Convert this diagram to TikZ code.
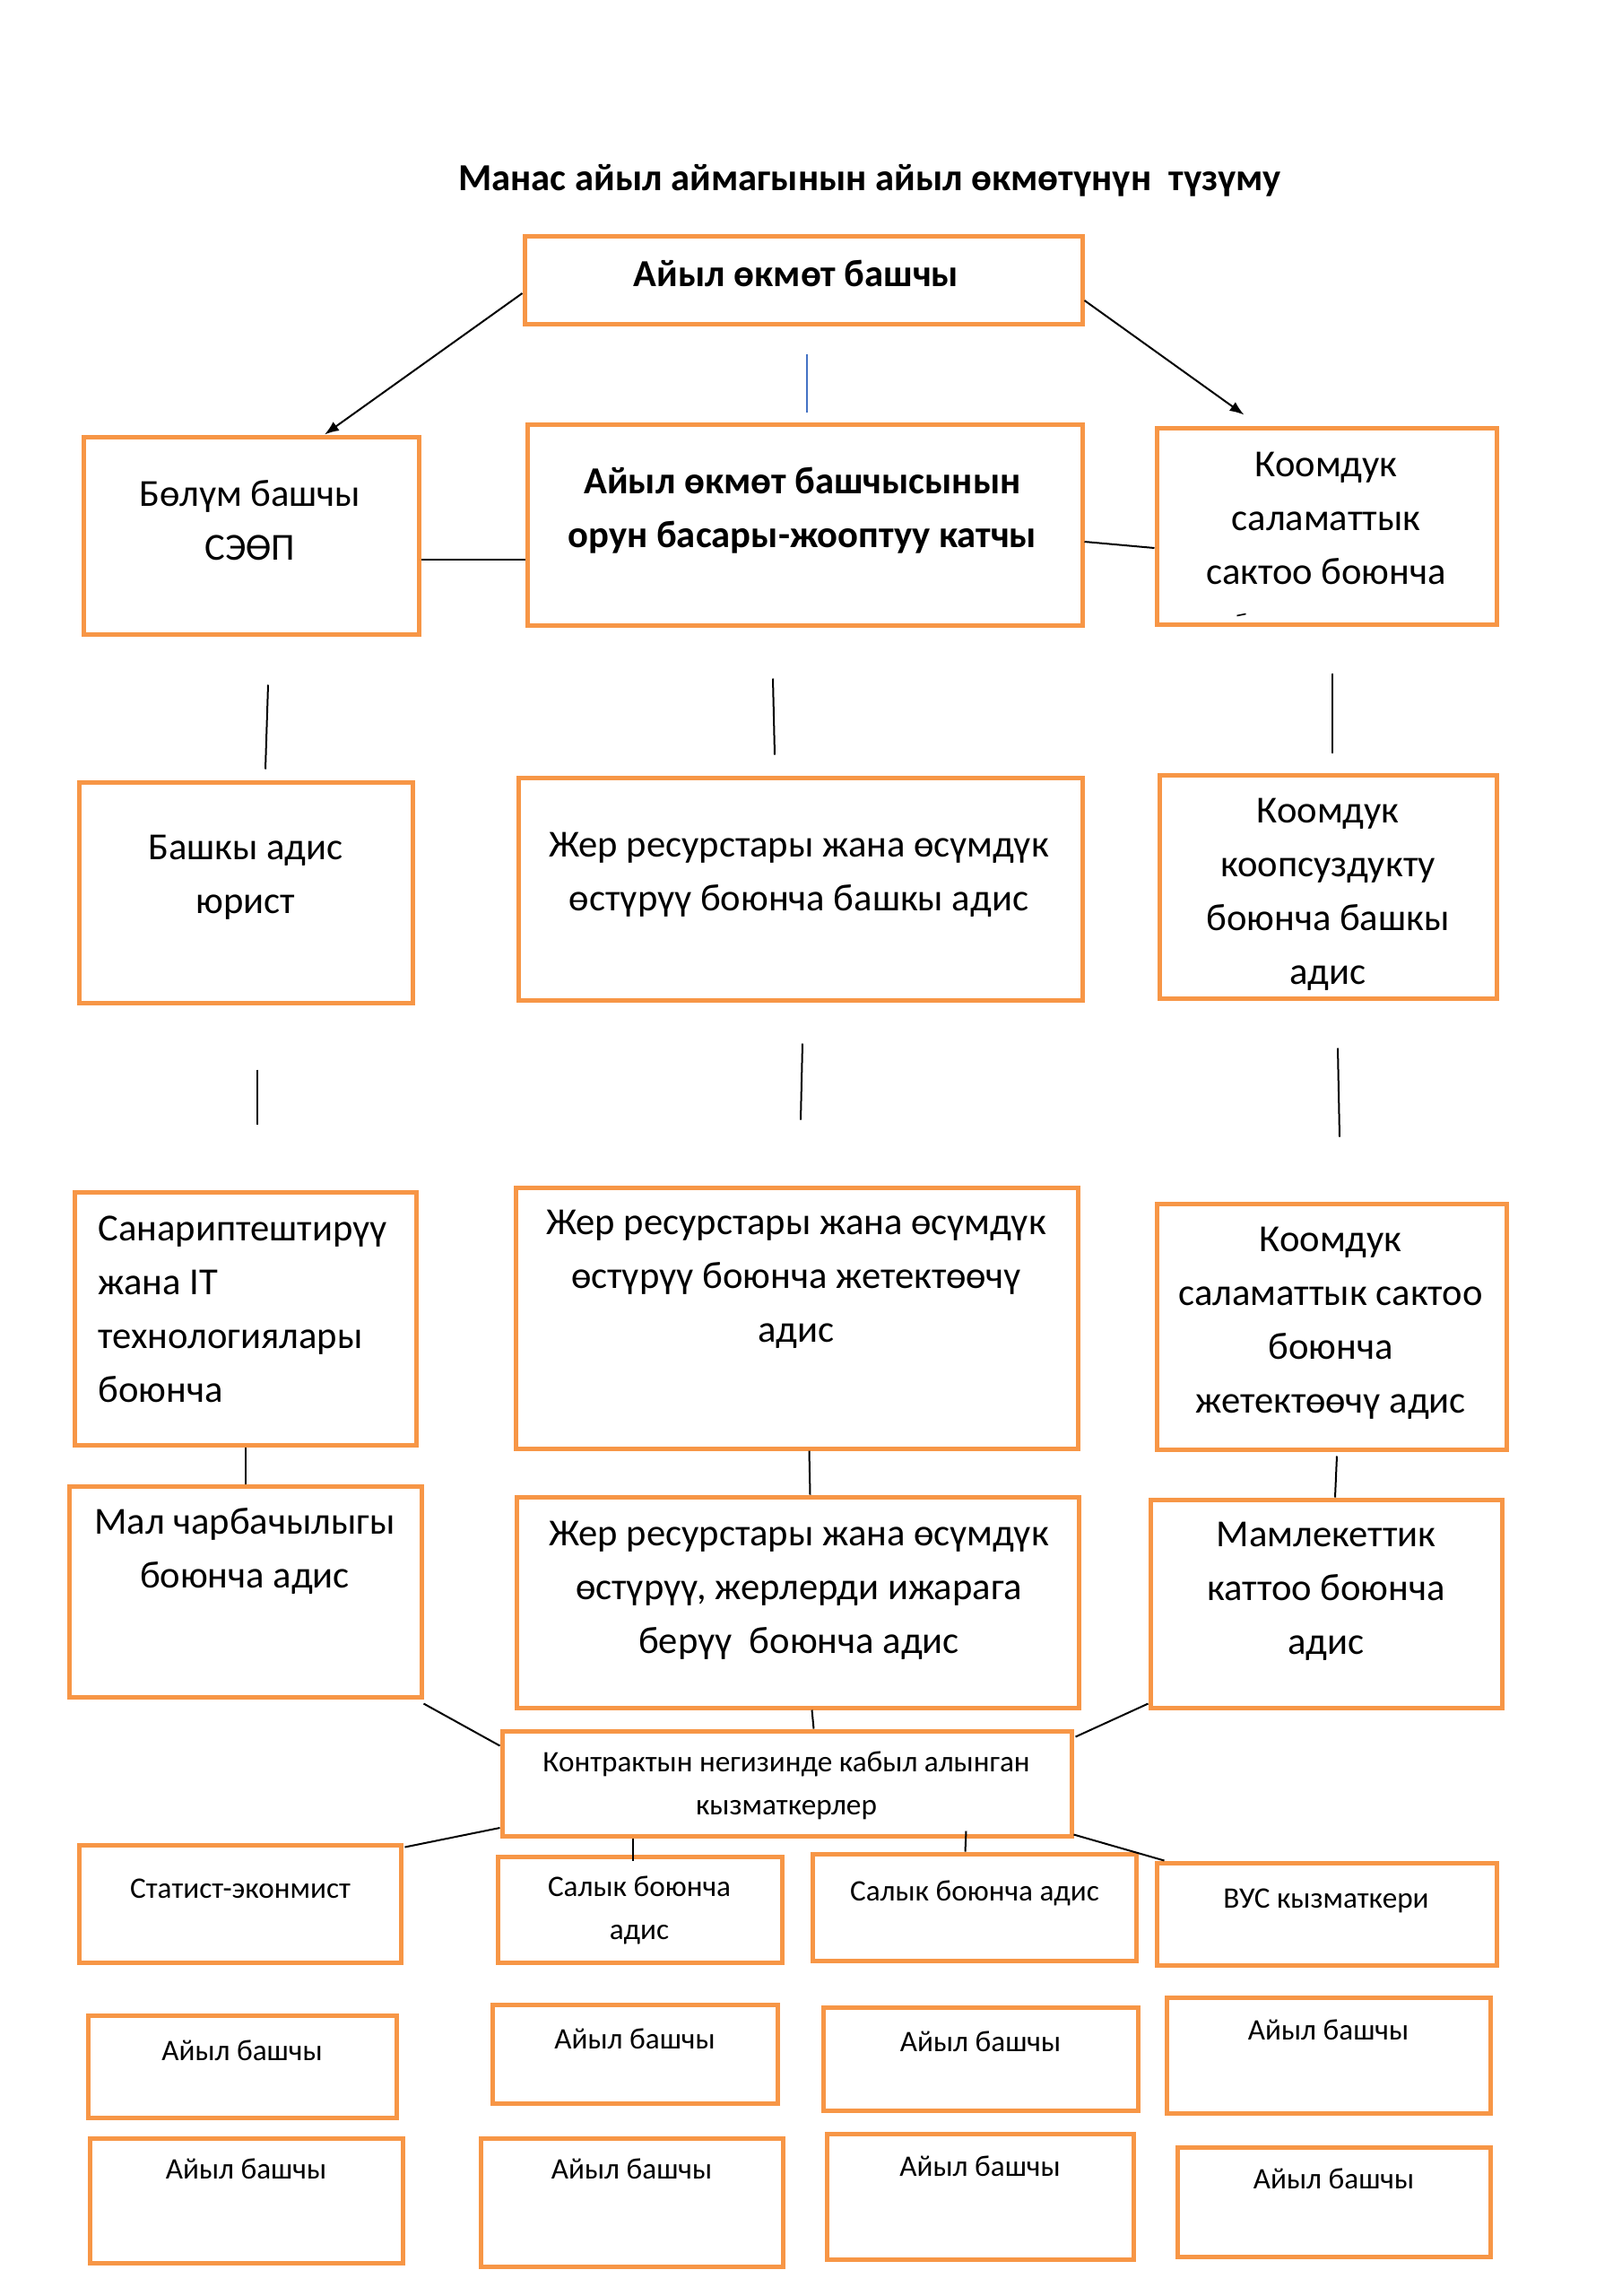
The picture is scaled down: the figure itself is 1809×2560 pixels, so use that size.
\documentclass[tikz,border=0pt]{standalone}
\usepackage{fontspec}
\setmainfont{Carlito}
\usetikzlibrary{arrows.meta,
                fit,
                positioning}
\definecolor{boxorange}{HTML}{F79646}
\definecolor{lineblue}{HTML}{4472C4}

\begin{document}
\begin{tikzpicture}[x=0.5pt, y=-0.5pt,
box/.style   = {draw=boxorange, line width=2.5pt, inner sep=0pt},
txt/.style   = {font=\fontsize{21.3}{30}\selectfont, align=center, inner sep=0pt},
bold/.style  = {font=\bfseries\fontsize{21.3}{30}\selectfont, align=center, inner sep=0pt},
small/.style = {font=\fontsize{16.6}{24}\selectfont, align=center, inner sep=0pt},
link/.style  = {draw, line width=1pt},
arrow/.style = {link, -{Latex[length=8pt, width=6pt]}}
                    ]
\useasboundingbox (0,0) rectangle (1809,2560);
\node[bold, font=\bfseries\fontsize{21.3}{24}\selectfont] (title) at (970,201)
    {Манас айыл аймагынын айыл өкмөтүнүн\ \ түзүму};
% boxes
\node[box, fit={(585,263) (1207,361)}]   (b1) {};
\node[box, fit={(93,487) (467,707)}]     (b2) {};
\node[box, fit={(588,473) (1207,697)}]   (b3) {};
\node[box, fit={(1290,477) (1669,696)}]  (b4) {};
\node[box, fit={(88,872) (460,1118)}]    (b5) {};
\node[box, fit={(578,867) (1207,1115)}]  (b6) {};
\node[box, fit={(1293,864) (1669,1113)}] (b7) {};
\node[box, fit={(83,1329) (464,1611)}]   (b8) {};
\node[box, fit={(575,1324) (1202,1615)}] (b9) {};
\node[box, fit={(1290,1342) (1680,1616)}] (b10) {};
\node[box, fit={(77,1657) (470,1892)}]   (b11) {};
\node[box, fit={(576,1669) (1203,1904)}] (b12) {};
\node[box, fit={(1283,1672) (1675,1904)}] (b13) {};
\node[box, fit={(560,1930) (1195,2047)}] (b14) {};
\node[box, fit={(88,2057) (447,2188)}]   (b15) {};
\node[box, fit={(555,2070) (872,2188)}]  (b16) {};
\node[box, fit={(906,2067) (1267,2186)}] (b17) {};
\node[box, fit={(1290,2077) (1669,2191)}] (b18) {};
% texts
\node[bold] (t1) at (888,305) {Айыл өкмөт башчы};
\node[txt]  (t2) at (279,580) {Бөлүм башчы\\СЭӨП};
\node[bold] (t3) at (895,569) {Айыл өкмөт башчысынын\\орун басары-жооптуу катчы};
\node[txt]  (t4) at (1479,578) {Коомдук\\саламаттык\\сактоо боюнча};
\node[txt]  (t5) at (274,978) {Башкы адис\\юрист};
\node[txt]  (t6) at (891,975) {Жер ресурстары жана өсүмдүк\\өстүрүү боюнча башкы адис};
\node[txt]  (t7) at (1481,997) {Коомдук\\коопсуздукту\\боюнча башкы\\адис};
\node[txt, align=left, anchor=west] (t8) at (109,1460)
    {Санариптештирүү\\жана IT\\технологиялары\\боюнча};
\node[txt]  (t9) at (888,1426) {Жер ресурстары жана өсүмдүк\\өстүрүү боюнча жетектөөчү\\адис};
\node[txt]  (t10) at (1484,1475) {Коомдук\\саламаттык сактоо\\боюнча\\жетектөөчү адис};
\node[txt]  (t11) at (273,1729) {Мал чарбачылыгы\\боюнча адис};
\node[txt]  (t12) at (891,1773) {Жер ресурстары жана өсүмдүк\\өстүрүү, жерлерди ижарага\\берүү\ \ боюнча адис};
\node[txt]  (t13) at (1479,1774) {Мамлекеттик\\каттоо боюнча\\адис};
\node[small] (t14) at (877,1991) {Контрактын негизинде кабыл алынган\\кызматкерлер};
\node[small] (t15) at (268,2106) {Статист-эконмист};
\node[small] (t16) at (713,2130) {Салык боюнча\\адис};
\node[small] (t17) at (1087,2111) {Салык боюнча адис};
\node[small] (t18) at (1479,2119) {ВУС кызматкери};
% village heads
\foreach \i/\xa/\ya/\xb/\yb/\ty in {1/98/2247/442/2361/2286,  2/549/2235/867/2345/2273,
        3/918/2238/1269/2353/2276, 4/1301/2227/1662/2356/2263,
        5/100/2384/449/2523/2418,  6/536/2384/873/2527/2418,
        7/922/2379/1264/2519/2415, 8/1313/2394/1662/2516/2429}
   {\node[box, fit={(\xa,\ya) (\xb,\yb)}] (v\i) {};
    \node[small] (vt\i) at ({(\xa+\xb)/2},\ty) {Айыл башчы};}
% connectors
\draw[arrow] ([yshift=-7.5pt]b1.west) -- ([xshift=41pt]b2.north);
\draw[arrow] ([yshift=-11.5pt]b1.east) -- ([xshift=-46pt,yshift=6pt]b4.north);
\draw[lineblue, line width=0.8pt] ([xshift=2pt,yshift=-15.5pt]b1.south) -- ([xshift=1.25pt,yshift=5.5pt]b3.north);
\draw[link] ([yshift=-13.5pt]b2.east) -- ([yshift=-19.5pt]b3.west);
\draw[link] ([yshift=-9.5pt]b3.east) -- ([yshift=-12.25pt]b4.west);
\draw[line width=0.8pt] ([xshift=-50pt,yshift=6pt]b4.south) -- ++(5pt,1pt);
\draw[link] ([xshift=9.5pt,yshift=-27pt]b2.south) -- ([xshift=11pt,yshift=6pt]b5.north);
\draw[link] ([xshift=-17.75pt,yshift=-28.5pt]b3.south) -- ([xshift=-14.25pt,yshift=11.5pt]b6.north);
\draw[link] ([xshift=3.25pt,yshift=-26pt]b4.south) -- ([xshift=2.5pt,yshift=11pt]b7.north);
\draw[link] ([xshift=6.5pt,yshift=-36pt]b5.south) -- ([xshift=6.75pt,yshift=36.5pt]b8.north);
\draw[link] ([xshift=1.25pt,yshift=-23pt]b6.south) -- ([xshift=2.25pt,yshift=36.5pt]b9.north);
\draw[link] ([xshift=5.5pt,yshift=-26.5pt]b7.south) -- ([xshift=4.5pt,yshift=36pt]b10.north);
\draw[link] (b8.south) -- (b11.north);
\draw[link] ([xshift=7pt]b9.south) -- ([xshift=7pt]b12.north);
\draw[link] ([xshift=3pt,yshift=-2.5pt]b10.south) -- ([xshift=5pt]b13.north);
\draw[link] ([xshift=8pt]b12.south) -- ([xshift=15pt]b14.north);
\draw[link] ([yshift=-2.5pt]b11.south east) -- ([yshift=21pt]b14.west);
\draw[link] ([yshift=3.5pt]b13.south west) -- ([xshift=1pt,yshift=26pt]b14.east);
\draw[link] ([yshift=-24.75pt]b14.west) -- ([xshift=1pt,yshift=-2.5pt]b15.north east);
\draw[link] ([xshift=-86pt]b14.south) -- ([xshift=-4pt,yshift=-3.5pt]b16.north);
\draw[link] ([xshift=100pt,yshift=4pt]b14.south) -- ([xshift=-5pt]b17.north);
\draw[link] ([yshift=2pt]b14.south east) -- ([xshift=5.5pt]b18.north west);
\end{tikzpicture}
\end{document}
